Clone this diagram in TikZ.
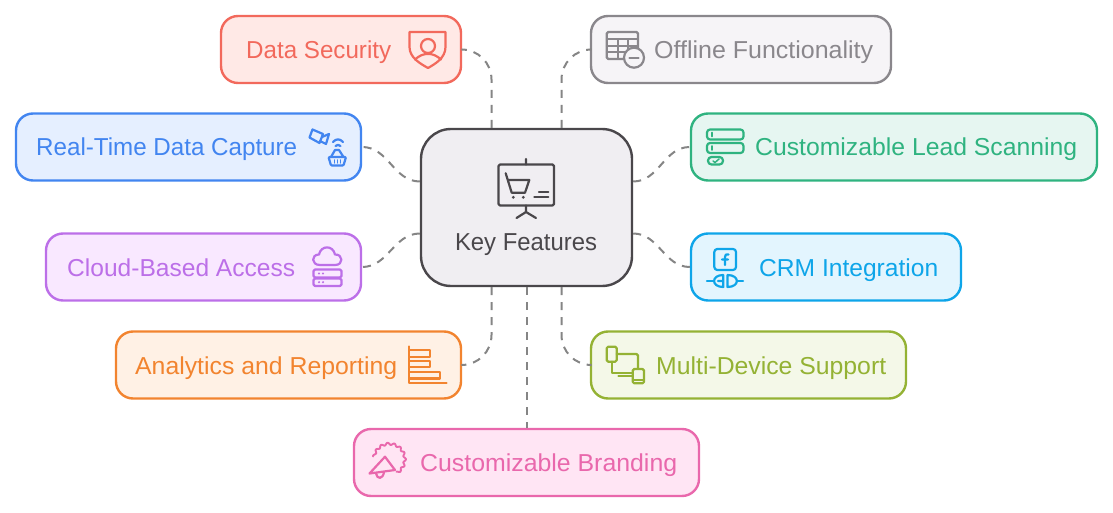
\documentclass[tikz,border=0pt]{standalone}
\usepackage{graphicx}
\usepackage{fontspec}
\setmainfont{Liberation Sans}
\usetikzlibrary{calc}

\definecolor{datasecline}{HTML}{F2695C}
\definecolor{datasecfill}{HTML}{FFE9E6}
\definecolor{realtimeline}{HTML}{4285F0}
\definecolor{realtimefill}{HTML}{E5EFFF}
\definecolor{cloudline}{HTML}{BC6FE8}
\definecolor{cloudfill}{HTML}{F9E8FF}
\definecolor{analyticsline}{HTML}{F2842F}
\definecolor{analyticsfill}{HTML}{FFF1E5}
\definecolor{brandingline}{HTML}{E968AC}
\definecolor{brandingfill}{HTML}{FFE5F4}
\definecolor{offlineline}{HTML}{8A878C}
\definecolor{offlinefill}{HTML}{F6F4F7}
\definecolor{leadline}{HTML}{2FB380}
\definecolor{leadfill}{HTML}{E6F6F1}
\definecolor{crmline}{HTML}{0EA5E9}
\definecolor{crmfill}{HTML}{E3F5FE}
\definecolor{deviceline}{HTML}{94B234}
\definecolor{devicefill}{HTML}{F4F8E8}
\definecolor{keyline}{HTML}{4A474B}
\definecolor{keyfill}{HTML}{F0EEF2}
\definecolor{linkgray}{HTML}{858585}

\begin{document}
\begin{tikzpicture}[x=1pt, y=-1pt,
        leaf/.style={draw, line width=2.4pt, rounded corners=17pt, minimum height=67pt, inner sep=0pt},
        leaftext/.style={inner sep=0pt, font=\fontsize{24.5}{28}\selectfont},
        icon/.style={line width=2.2pt, line join=round, line cap=round},
        link/.style={draw=linkgray, line width=2pt, dash pattern=on 8pt off 7pt}
        ]
    \useasboundingbox (0,0) rectangle (1113,513);

    % centre box first, the connectors hang off it
    \node[leaf, draw=keyline, fill=keyfill, minimum width=211pt, minimum height=157pt, rounded corners=30pt] (keyfeat) at (526.5,207.5) {};

    % the nine feature boxes with their labels
    \foreach \nm/\cx/\cy/\bw/\tx/\tw/\lbl in {
        datasec/341/49.5/240/246/145/Data Security,
        realtime/188.5/147/345/36/261/Real-Time Data Capture,
        cloud/203.5/267/315/67/228/Cloud-Based Access,
        analytics/288.5/365/345/135/262/Analytics and Reporting,
        branding/526.5/462.5/345/420/257/Customizable Branding,
        offline/741/49.5/300/654/219/Offline Functionality,
        lead/894/147/406/755/322/Customizable Lead Scanning,
        crm/826/267/270/759/179/CRM Integration,
        device/748.5/365/315/656/230/Multi-Device Support} {
        \node[leaf, minimum width=\bw pt, draw=\nm line, fill=\nm fill] (\nm) at (\cx,\cy) {};
        \node[leaftext, anchor=base west, text=\nm line] (\nm text) at (\tx,\cy+9) {\resizebox{\tw pt}{\height}{\lbl}};
    }
    \node[leaftext, anchor=base, text=keyline] (keytext) at (526,250) {\resizebox{142pt}{\height}{Key Features}};

    % connectors
    \draw[link, rounded corners=30pt] ($(keyfeat.north)+(-35,0)$) |- (datasec.east);
    \draw[link, rounded corners=30pt] ($(keyfeat.north)+(35,0)$) |- (offline.west);
    \draw[link, rounded corners=30pt] ($(keyfeat.south)+(-35,0)$) |- (analytics.east);
    \draw[link, rounded corners=30pt] ($(keyfeat.south)+(35,0)$) |- (device.west);
    \draw[link] (keyfeat.south) -- (branding.north);
    \draw[link] ($(keyfeat.west)+(0,-26)$) to[out=180, in=0] (realtime.east);
    \draw[link] ($(keyfeat.west)+(0,26)$) to[out=180, in=0] (cloud.east);
    \draw[link] ($(keyfeat.east)+(0,-26)$) to[out=0, in=180] (lead.west);
    \draw[link] ($(keyfeat.east)+(0,26)$) to[out=0, in=180] (crm.west);

    % key features icon
    \draw[icon, keyline, rounded corners=1.5pt] (498.5,164.5) rectangle (554,205.5);
    \draw[icon, keyline] (526,159) -- (526,164.5) (526,205.5) -- (526,212) (516.5,218) -- (526,212) -- (536,218);
    \draw[icon, keyline] (505.7,173.3) -- (511.7,192.7) -- (525,192.7) -- (529.3,180) -- (508,180);
    \fill[keyline] (513.3,197.3) circle (1.6) (523.3,197.3) circle (1.6);
    \draw[icon, keyline] (539,191.7) -- (548.3,191.7) (534.3,197.3) -- (548.3,197.3);

    % shield
    \draw[icon, datasecline] (409.5,32) -- (445.5,32) -- (445.5,47) .. controls (445.5,58) and (435,64) .. (428,68) .. controls (421,64) and (409.5,58) .. (409.5,47) -- cycle;
    \draw[icon, datasecline] (428,46) circle (7);
    \draw[icon, datasecline] (415,59.5) .. controls (423,52) and (433,52) .. (441,59.5);

    % camera and basket
    \draw[icon, realtimeline] (312.5,129.5) -- (323,134) -- (319.5,143) -- (309.5,137.5) -- cycle;
    \draw[icon, realtimeline] (322,137) -- (329,134) -- (326,144) -- (320,141);
    \draw[icon, realtimeline] (333,142) .. controls (336,138.5) and (340,138.5) .. (343,142);
    \draw[icon, realtimeline] (335.5,146) .. controls (337,144.5) and (339,144.5) .. (340.5,146);
    \draw[icon, realtimeline] (331,157) -- (335,150) -- (339,150) -- (343.5,157);
    \draw[icon, realtimeline, rounded corners=1pt] (328.5,157) -- (346,157) -- (343.5,165.5) -- (331,165.5) -- cycle;
    \draw[icon, realtimeline, line width=1.5pt] (334.5,160) -- (334.5,163) (337.5,160) -- (337.5,163) (340.5,160) -- (340.5,163);

    % cloud over servers
    \draw[icon, cloudline] (320,265) .. controls (311,265) and (311,254.5) .. (319,254.5) .. controls (321,245) and (333,245) .. (335,254.5) .. controls (343,254) and (344,265) .. (335,265) -- cycle;
    \draw[icon, cloudline, rounded corners=1.5pt] (313.5,269.5) rectangle (341.5,277.5) (313.5,278.5) rectangle (341.5,286);
    \fill[cloudline] (319,273.5) circle (1.2) (323,273.5) circle (1.2) (319,282.2) circle (1.2) (323,282.2) circle (1.2);

    % bars
    \draw[icon, analyticsline] (409.3,346.5) -- (409.3,382.7) -- (446.5,382.7);
    \draw[icon, analyticsline] (409.3,350) -- (430,350) -- (430,357) -- (409.3,357);
    \draw[icon, analyticsline] (409.3,361) -- (430,361) -- (430,367) -- (409.3,367);
    \draw[icon, analyticsline] (409.3,372) -- (440,372) -- (440,378.5) -- (409.3,378.5);

    % megaphone in a badge
    \draw[icon, brandingline, line width=1.9pt, smooth, samples=140, domain=190:420, variable=\t] plot ({389.3+(15.5+1.1*cos(15*\t))*cos(\t)}, {459.3+(15.5+1.1*cos(15*\t))*sin(\t)});
    \draw[icon, brandingline] (385,456.7) -- (395,470) -- (369.5,473.5) -- cycle;
    \draw[icon, brandingline] (376,473.5) .. controls (377,479.5) and (383,479.5) .. (384,472);

    % table with minus sign
    \draw[icon, offlineline, rounded corners=1.5pt] (606.7,32) rectangle (638,59);
    \draw[icon, offlineline, line width=1.7pt] (606.7,39) -- (638,39) (606.7,45.7) -- (638,45.7) (606.7,52.3) -- (630,52.3) (618,39) -- (618,59) (628,39) -- (628,52);
    \draw[icon, offlineline, fill=offlinefill] (634,57.7) circle (10);
    \draw[icon, offlineline] (629.5,57.7) -- (638.5,57.7);

    % stacked rows and check
    \draw[icon, leadline, rounded corners=3pt] (707,129.5) rectangle (743.5,139.5) (707,143) rectangle (743.5,153);
    \draw[icon, leadline, line width=1.6pt] (712,132.5) -- (712,136.5) (712,146) -- (712,150);
    \draw[icon, leadline, rounded corners=3.5pt] (708,157) rectangle (723,164.5);
    \draw[icon, leadline, line width=1.5pt] (713,161) -- (715,162.5) -- (719,159);

    % plug under the f square
    \draw[icon, crmline, rounded corners=3pt] (714.3,249) rectangle (736,270);
    \draw[icon, crmline] (728.5,254.5) .. controls (726,253.5) and (725,255) .. (725,257) -- (725,265) (722,259.5) -- (728,259.5);
    \draw[icon, crmline] (723.3,275) -- (723.3,287) .. controls (711,287) and (711,275) .. (723.3,275) (723.3,281) -- (718,281);
    \draw[icon, crmline] (727.5,275) -- (727.5,287) .. controls (740,287) and (740,275) .. (727.5,275);
    \draw[icon, crmline] (707,281) -- (713,281) (737,281) -- (743,281);

    % phone, monitor and tablet
    \draw[icon, deviceline, rounded corners=1.5pt] (606.7,346.7) rectangle (616.7,361.7);
    \draw[icon, deviceline, rounded corners=1.5pt] (616.7,354) -- (638,354) -- (638,368);
    \draw[icon, deviceline] (611.7,361.7) -- (611.7,373.3) -- (632,373.3) (618.5,376) -- (632,376);
    \draw[icon, deviceline, rounded corners=1.5pt] (632.7,369) rectangle (644,383.3);
    \draw[icon, deviceline, line width=1.5pt] (632.7,380) -- (644,380);
\end{tikzpicture}
\end{document}
